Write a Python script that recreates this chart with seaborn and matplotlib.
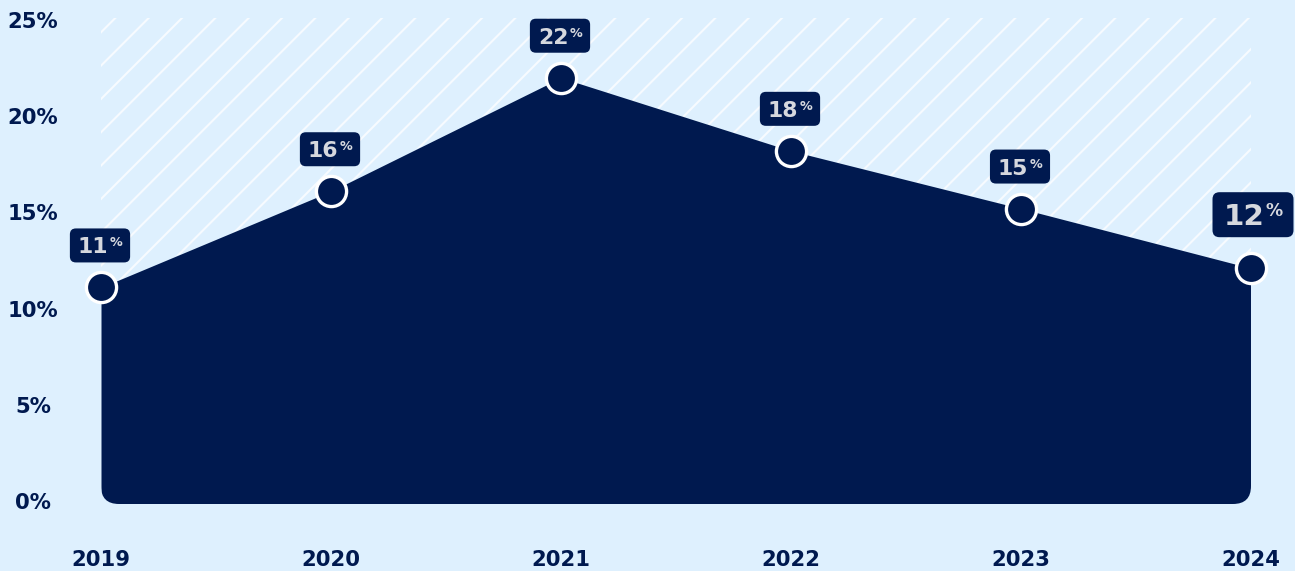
import matplotlib
matplotlib.use("Agg")
import matplotlib.pyplot as plt
import matplotlib.transforms as mtransforms
import seaborn as sns
import pandas as pd
from matplotlib.patches import FancyBboxPatch

# ---- data ----
years = ["2019", "2020", "2021", "2022", "2023", "2024"]
values = [11.1, 16.1, 22.0, 18.2, 15.2, 12.1]
labels = ["11", "16", "22", "18", "15", "12"]
yticks = [0, 5, 10, 15, 20, 25]
ytick_labels = ["0%", "5%", "10%", "15%", "20%", "25%"]

BG = "#DEF0FE"
NAVY = "#00194F"
TXT = "#D6D8DE"

sns.set_theme(style="white", rc={"axes.facecolor": BG, "figure.facecolor": BG})
plt.rcParams["font.family"] = ["DejaVu Sans"]
plt.rcParams["hatch.linewidth"] = 0.75

DPI = 200
W, H = 1295, 571
fig = plt.figure(figsize=(W / DPI, H / DPI), dpi=DPI)
ax = fig.add_axes([101 / W, (H - 504) / H, (1251 - 101) / W, (504 - 18) / H])

df = pd.DataFrame({"x": range(len(years)), "v": values})
ax.set_xlim(0, len(years) - 1)
ax.set_ylim(-0.156, 25.104)
ylo, yhi = ax.get_ylim()

# hatched region above the curve
ax.fill_between(df["x"], df["v"], yhi, facecolor="none", edgecolor="#F7FBFF",
                hatch="//", linewidth=0, zorder=1)

# navy area, clipped by a rounded rectangle (rounded bottom corners)
area = ax.fill_between(df["x"], df["v"], ylo, color=NAVY, linewidth=0, zorder=2)
px_x = ax.transData.transform((1, 0))[0] - ax.transData.transform((0, 0))[0]
px_y = ax.transData.transform((0, 1))[1] - ax.transData.transform((0, 0))[1]
aspect = px_x / px_y
r_px = 18
clip = FancyBboxPatch((0, ylo), len(years) - 1, 40,
                      boxstyle=f"round,pad=0,rounding_size={r_px / px_x:.4f}",
                      mutation_aspect=aspect, facecolor="none", edgecolor="none",
                      transform=ax.transData)
area.set_clip_path(clip)

sns.scatterplot(data=df, x="x", y="v", ax=ax, s=118, color=NAVY,
                edgecolor="white", linewidth=1.2, zorder=4, clip_on=False,
                legend=False)

# value labels: box + digits + small "%"
renderer = fig.canvas.get_renderer()
highlight = len(years) - 1
for i, (v, lab) in enumerate(zip(values, labels)):
    big = i == highlight
    if big:
        cx, by0, by1 = 2, 31, 76      # box centre offset / bottom / top (px)
        base, dfs = 43, 10.6          # digits baseline, fontsize
        ptop, pfs = 66, 6.2           # percent top, fontsize
        padx, gap, rad = 11, 1, 7
    else:
        cx, by0, by1 = -1, 25, 59
        base, dfs = 34, 7.9
        ptop, pfs = 51, 4.6
        padx, gap, rad = 8, 1, 6
    px, py = ax.transData.transform((i, v))
    t_d = ax.annotate(lab, xy=(i, v), xytext=(0, base),
                      textcoords="offset pixels", ha="left", va="baseline",
                      color=TXT, fontsize=dfs, fontweight="bold",
                      annotation_clip=False, zorder=7)
    t_p = ax.annotate("%", xy=(i, v), xytext=(0, ptop),
                      textcoords="offset pixels", ha="left", va="top",
                      color=TXT, fontsize=pfs, fontweight="bold",
                      annotation_clip=False, zorder=7)
    wd = t_d.get_window_extent(renderer).width
    wp = t_p.get_window_extent(renderer).width
    content = wd + gap + wp
    left = cx - content / 2
    t_d.set_position((left, base))
    t_p.set_position((left + wd + gap, ptop))
    bw = content + 2 * padx
    box = FancyBboxPatch((px + cx - bw / 2, py + by0), bw, by1 - by0,
                         boxstyle=f"round,pad=0,rounding_size={rad}",
                         facecolor=NAVY, edgecolor="none",
                         transform=mtransforms.IdentityTransform(), zorder=6,
                         clip_on=False)
    ax.add_artist(box)

ax.set_xticks(range(len(years)))
ax.set_xticklabels(years, fontsize=7.6, fontweight="bold", color=NAVY)
ax.set_yticks(yticks)
ax.set_yticklabels(ytick_labels, fontsize=7.6, fontweight="bold", color=NAVY,
                   ha="center")
ax.tick_params(axis="y", length=0, pad=24.5)
ax.tick_params(axis="x", length=0, pad=16.5)
ax.set_xlabel("")
ax.set_ylabel("")
for s in ax.spines.values():
    s.set_visible(False)
ax.grid(False)

fig.savefig("out.png", dpi=DPI, facecolor=BG)
